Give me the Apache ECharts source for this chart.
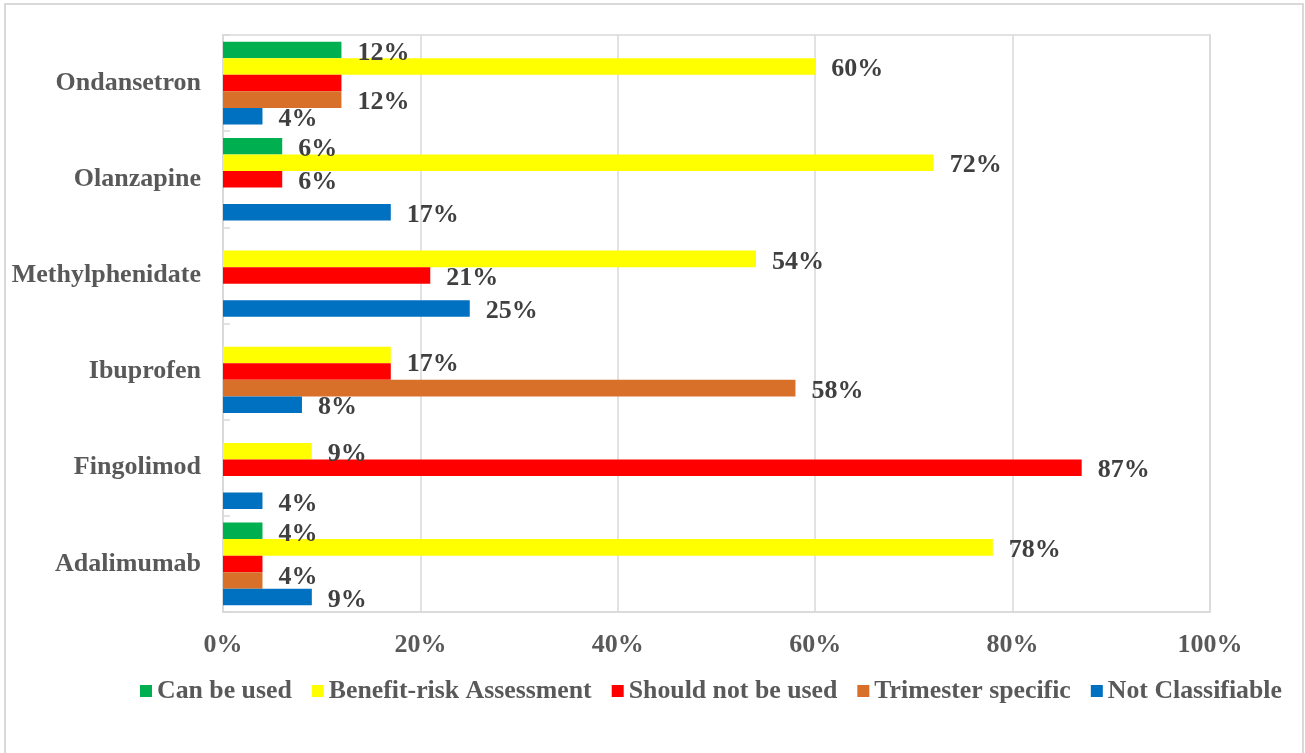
<!DOCTYPE html>
<html>
<head>
<meta charset="utf-8">
<script src="https://cdn.jsdelivr.net/npm/echarts@6/dist/echarts.min.js"></script>
<style>
  html, body { margin: 0; padding: 0; background: #ffffff; }
  #chart { width: 1305px; height: 753px; }
</style>
</head>
<body>
<div id="chart"></div>
<script>
// Drugs, listed bottom to top along the category axis
const drugs = ['Adalimumab', 'Fingolimod', 'Ibuprofen', 'Methylphenidate', 'Olanzapine', 'Ondansetron'];

// Share of sources per classification (%), same order as drugs; null = not reported
const canBeUsed         = [4, null, null, null, 6, 12];
const benefitRisk       = [78, 9, 17, 54, 72, 60];
const shouldNotBeUsed   = [4, 87, 17, 21, 6, 12];
const trimesterSpecific = [4, null, 58, null, null, 12];
const notClassifiable   = [9, 4, 8, 25, 17, 4];

// Percentage axis ticks
const percentTicks = [0, 20, 40, 60, 80, 100];

// Series, drawn top-to-bottom inside each drug band
const seriesDefs = [
  { name: 'Can be used',             values: canBeUsed,         color: '#00b050' },
  { name: 'Benefit-risk Assessment', values: benefitRisk,       color: '#ffff00' },
  { name: 'Should not be used',      values: shouldNotBeUsed,   color: '#ff0000' },
  { name: 'Trimester specific',      values: trimesterSpecific, color: '#d97029' },
  { name: 'Not Classifiable',        values: notClassifiable,   color: '#0070c0' }
];

// Labels shared by two touching bars of equal length are written once
const labelTweaks = [
  { series: 'Should not be used', drug: 'Ondansetron', hide: true },
  { series: 'Should not be used', drug: 'Ibuprofen', hide: true },
  { series: 'Should not be used', drug: 'Adalimumab', hide: true },
  { series: 'Benefit-risk Assessment', drug: 'Ibuprofen', offset: [0, 9] },
  { series: 'Trimester specific', drug: 'Adalimumab', offset: [0, -3] }
];

const FONT = "'Liberation Serif', 'Times New Roman', serif";
const FS = 26;
const LABEL_DROP = [0, 3];

function buildData(def) {
  return def.values.map(function (v, i) {
    const tweak = labelTweaks.find(function (t) { return t.series === def.name && t.drug === drugs[i]; });
    if (!tweak || v == null) return v;
    const item = { value: v, label: {} };
    if (tweak.hide) item.label.show = false;
    if (tweak.offset) item.label.offset = tweak.offset;
    return item;
  });
}

const chart = echarts.init(document.getElementById('chart'), null, { renderer: 'canvas' });

chart.setOption({
  animation: false,
  backgroundColor: '#ffffff',
  graphic: [{
    type: 'rect',
    shape: { x: 5, y: 4, width: 1298, height: 800 },
    style: { fill: 'none', stroke: '#d9d9d9', lineWidth: 2 },
    silent: true
  }],
  grid: {
    left: 223, top: 35, width: 987, height: 577,
    show: true, borderColor: '#d9d9d9', borderWidth: 1.5,
    containLabel: false
  },
  legend: {
    data: seriesDefs.map(function (d) { return d.name; }),
    left: 140, top: 678, padding: 0,
    itemWidth: 12, itemHeight: 12, itemGap: 20,
    icon: 'rect',
    textStyle: { fontFamily: FONT, fontSize: 25.8, fontWeight: 'bold', color: '#595959' }
  },
  xAxis: {
    type: 'value',
    min: percentTicks[0],
    max: percentTicks[percentTicks.length - 1],
    interval: percentTicks[1] - percentTicks[0],
    axisLine: { show: true, lineStyle: { color: '#d9d9d9', width: 1.5 } },
    axisTick: { show: false },
    splitLine: { show: true, lineStyle: { color: '#d9d9d9', width: 1.5 } },
    axisLabel: {
      formatter: '{value}%', margin: 20,
      fontFamily: FONT, fontSize: FS, fontWeight: 'bold', color: '#595959'
    }
  },
  yAxis: {
    type: 'category',
    data: drugs,
    axisLine: { show: true, lineStyle: { color: '#d9d9d9', width: 2 } },
    axisTick: { show: true, inside: true, length: 7, lineStyle: { color: '#d9d9d9', width: 1.5 } },
    splitLine: { show: false },
    axisLabel: {
      margin: 22,
      fontFamily: FONT, fontSize: FS, fontWeight: 'bold', color: '#595959'
    }
  },
  series: seriesDefs.map(function (def) {
    return {
      name: def.name,
      type: 'bar',
      data: buildData(def),
      barGap: '0%',
      barCategoryGap: '14%',
      itemStyle: { color: def.color },
      label: {
        show: true,
        position: 'right',
        distance: 16,
        offset: LABEL_DROP,
        formatter: '{c}%',
        fontFamily: FONT, fontSize: FS, fontWeight: 'bold', color: '#404040'
      }
    };
  })
});
</script>
</body>
</html>
